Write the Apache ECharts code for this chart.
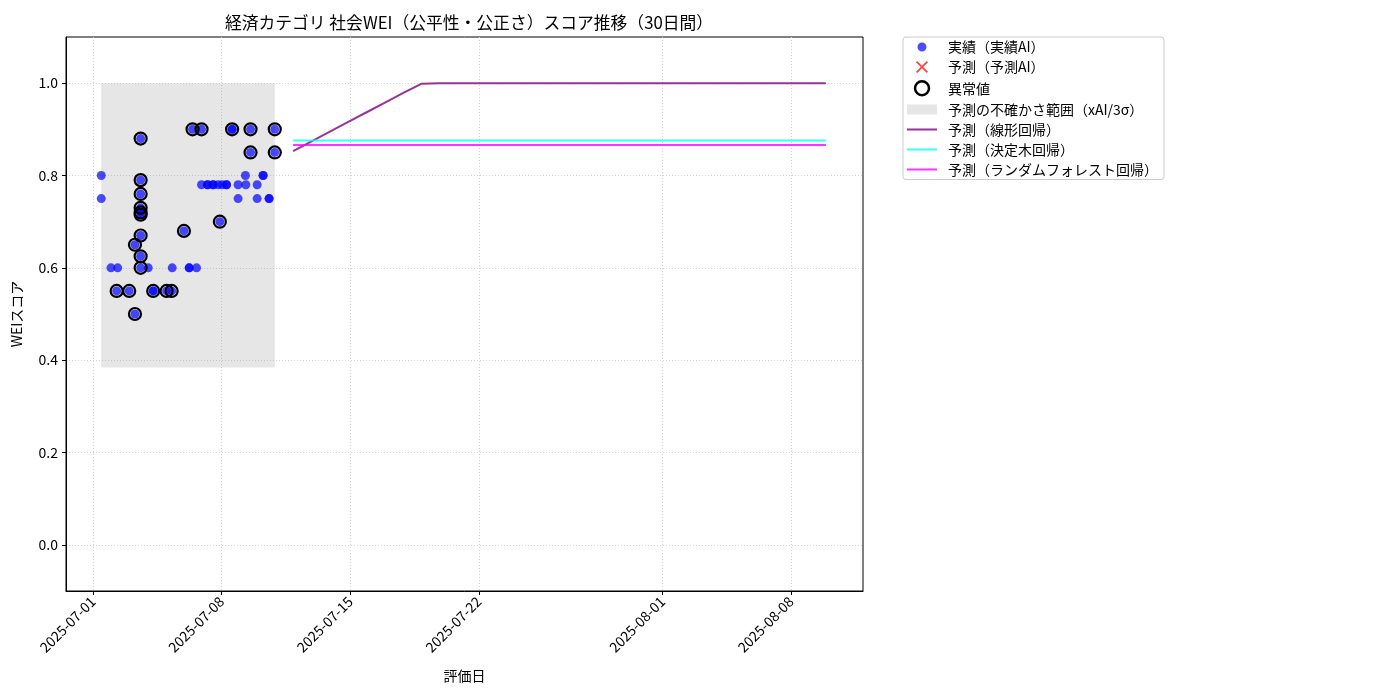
<!DOCTYPE html>
<html>
<head>
<meta charset="utf-8">
<script src="https://cdn.jsdelivr.net/npm/echarts@6/dist/echarts.min.js"></script>
<style>
  html, body { margin: 0; padding: 0; background: #fff; }
  #main { width: 1400px; height: 700px; }
</style>
</head>
<body>
<div id="main"></div>
<script>
// 実績データ（評価日時とスコア）
var actualTimes = [
  '2025-07-01 10:50', '2025-07-01 10:50', '2025-07-01 23:30', '2025-07-02 06:55',
  '2025-07-02 08:15', '2025-07-02 23:20', '2025-07-03 06:50', '2025-07-03 06:50',
  '2025-07-03 14:15', '2025-07-03 14:15', '2025-07-03 14:15', '2025-07-03 14:15',
  '2025-07-03 14:15', '2025-07-03 14:15', '2025-07-03 14:15', '2025-07-03 14:15',
  '2025-07-03 14:15', '2025-07-04 00:10', '2025-07-04 06:40', '2025-07-04 06:40',
  '2025-07-05 00:10', '2025-07-05 06:45', '2025-07-05 07:30', '2025-07-05 22:50',
  '2025-07-06 05:45', '2025-07-06 05:45', '2025-07-06 10:05', '2025-07-06 15:20',
  '2025-07-06 21:50', '2025-07-06 21:50', '2025-07-07 05:45', '2025-07-07 05:45',
  '2025-07-07 13:00', '2025-07-07 13:00', '2025-07-07 19:30', '2025-07-07 21:45',
  '2025-07-08 00:45', '2025-07-08 06:30', '2025-07-08 06:30', '2025-07-08 13:45',
  '2025-07-08 13:45', '2025-07-08 21:35', '2025-07-08 21:35', '2025-07-09 07:10',
  '2025-07-09 07:40', '2025-07-09 13:50', '2025-07-09 13:50', '2025-07-09 22:30',
  '2025-07-09 22:30', '2025-07-10 06:15', '2025-07-10 06:15', '2025-07-10 14:05',
  '2025-07-10 14:05', '2025-07-10 21:30', '2025-07-10 21:30'
]
var actualValues = [
  0.80, 0.75, 0.60, 0.55,
  0.60, 0.55, 0.65, 0.50,
  0.88, 0.79, 0.76, 0.73,
  0.72, 0.715, 0.67, 0.625,
  0.60, 0.60, 0.55, 0.55,
  0.55, 0.55, 0.60, 0.68,
  0.60, 0.60, 0.90, 0.60,
  0.90, 0.78, 0.78, 0.78,
  0.78, 0.78, 0.78, 0.70,
  0.78, 0.78, 0.78, 0.90,
  0.90, 0.78, 0.75, 0.80,
  0.78, 0.90, 0.85, 0.78,
  0.75, 0.80, 0.80, 0.75,
  0.75, 0.90, 0.85
]

// 異常値
var outlierTimes = [
  '2025-07-02 06:55', '2025-07-02 23:20', '2025-07-03 06:50', '2025-07-03 06:50',
  '2025-07-03 14:15', '2025-07-03 14:15', '2025-07-03 14:15', '2025-07-03 14:15',
  '2025-07-03 14:15', '2025-07-03 14:15', '2025-07-03 14:15', '2025-07-03 14:15',
  '2025-07-03 14:15', '2025-07-04 06:40', '2025-07-05 00:10', '2025-07-05 06:45',
  '2025-07-05 22:50', '2025-07-06 10:05', '2025-07-06 21:50', '2025-07-07 21:45',
  '2025-07-08 13:45', '2025-07-09 13:50', '2025-07-09 13:50', '2025-07-10 21:30',
  '2025-07-10 21:30'
]
var outlierValues = [
  0.55, 0.55, 0.65, 0.50,
  0.88, 0.79, 0.76, 0.73,
  0.72, 0.715, 0.67, 0.625,
  0.60, 0.55, 0.55, 0.55,
  0.68, 0.90, 0.90, 0.70,
  0.90, 0.90, 0.85, 0.90,
  0.85
]

// 不確かさ範囲（xAI/3σ）
var bandLower = 0.384
var bandUpper = 1.0

// 予測（翌日から30日分）
var predStart = '2025-07-11 21:30'
var linearPred = [
  0.853, 0.874, 0.895, 0.916, 0.937, 0.958, 0.979, 0.999, 1.0, 1.0,
  1.0, 1.0, 1.0, 1.0, 1.0, 1.0, 1.0, 1.0, 1.0, 1.0,
  1.0, 1.0, 1.0, 1.0, 1.0, 1.0, 1.0, 1.0, 1.0, 1.0
]
var treePred = [
  0.876, 0.876, 0.876, 0.876, 0.876, 0.876, 0.876, 0.876, 0.876, 0.876,
  0.876, 0.876, 0.876, 0.876, 0.876, 0.876, 0.876, 0.876, 0.876, 0.876,
  0.876, 0.876, 0.876, 0.876, 0.876, 0.876, 0.876, 0.876, 0.876, 0.876
]
var forestPred = [
  0.866, 0.866, 0.866, 0.866, 0.866, 0.866, 0.866, 0.866, 0.866, 0.866,
  0.866, 0.866, 0.866, 0.866, 0.866, 0.866, 0.866, 0.866, 0.866, 0.866,
  0.866, 0.866, 0.866, 0.866, 0.866, 0.866, 0.866, 0.866, 0.866, 0.866
]

// 目盛り
var xTickDates = ['2025-07-01', '2025-07-08', '2025-07-15', '2025-07-22', '2025-08-01', '2025-08-08']
var yTicks = [0.0, 0.2, 0.4, 0.6, 0.8, 1.0]

function toTime (s) {
  var p = s.split(/[- :]/).map(Number)
  return new Date(p[0], p[1] - 1, p[2], p[3] || 0, p[4] || 0).getTime()
}
function pad (n) { return n < 10 ? '0' + n : '' + n }
function fmtDate (v) {
  var d = new Date(v)
  return d.getFullYear() + '-' + pad(d.getMonth() + 1) + '-' + pad(d.getDate())
}

var predTimes = []
for (var i = 0; i < linearPred.length; i++) {
  predTimes.push(toTime(predStart) + i * 86400000)
}
function pairs (xs, ys) {
  return xs.map(function (x, i) { return [typeof x === 'string' ? toTime(x) : x, ys[i]] })
}

var FONT = '"Noto Sans CJK JP", "Noto Sans", sans-serif'
var xCustom = xTickDates.map(toTime)
var XMARK = 'path://M1,0 L5,4 L9,0 L10,1 L6,5 L10,9 L9,10 L5,6 L1,10 L0,9 L4,5 L0,1 Z'
// 凡例アイコン（30x14 の枠、四隅の極小点で大きさを固定）
var PADBOX = 'M0,0 L0.01,0 L0,0.01 Z M30,14 L29.99,14 L30,13.99 Z '
var DOTICON = 'path://' + PADBOX + 'M19.5,7 A4.5,4.5 0 1,1 10.5,7 A4.5,4.5 0 1,1 19.5,7 Z'
var XICON = 'path://' + PADBOX + 'M10.2,1 L15,5.8 L19.8,1 L21,2.2 L16.2,7 L21,11.8 L19.8,13 L15,8.2 L10.2,13 L9,11.8 L13.8,7 L9,2.2 Z'
var BANDICON = 'path://' + PADBOX + 'M0,2 L30,2 L30,12 L0,12 Z'
var LINEICON = 'path://' + PADBOX + 'M0,6 L30,6 L30,8 L0,8 Z'

var main = document.getElementById('main')
var myChart = echarts.init(main)

myChart.setOption({
  animation: false,
  backgroundColor: '#fff',
  textStyle: { fontFamily: FONT },
  title: {
    text: '経済カテゴリ 社会WEI（公平性・公正さ）スコア推移（30日間）',
    left: 464,
    textAlign: 'center',
    top: 9,
    textStyle: { fontSize: 16.8, fontWeight: 'normal', color: '#000', fontFamily: FONT }
  },
  legend: {
    orient: 'vertical',
    left: 903,
    top: 37,
    padding: [3, 6, 3, 4],
    itemWidth: 30,
    itemHeight: 14,
    itemGap: 6,
    borderColor: '#ccc',
    borderWidth: 1,
    borderRadius: 3,
    textStyle: { fontSize: 14, color: '#000', fontFamily: FONT, lineHeight: 14, padding: [0, 0, 0, 6] },
    data: [
      { name: '実績（実績AI）', icon: DOTICON },
      { name: '予測（予測AI）', icon: XICON },
      { name: '異常値', icon: 'circle', itemStyle: { borderWidth: 2.5 } },
      { name: '予測の不確かさ範囲（xAI/3σ）', icon: BANDICON },
      { name: '予測（線形回帰）', icon: LINEICON },
      { name: '予測（決定木回帰）', icon: LINEICON },
      { name: '予測（ランダムフォレスト回帰）', icon: LINEICON }
    ]
  },
  grid: {
    left: 66,
    right: 537,
    top: 37,
    bottom: 109,
    show: true,
    borderColor: '#000',
    borderWidth: 1,
    backgroundColor: 'transparent'
  },
  xAxis: {
    type: 'value',
    min: toTime('2025-06-29 12:45'),
    max: toTime('2025-08-11 22:00'),
    name: '評価日',
    nameLocation: 'middle',
    nameGap: 78,
    nameTextStyle: { fontSize: 14, color: '#000', fontFamily: FONT },
    axisLine: { onZero: false, lineStyle: { color: '#000', width: 1 } },
    axisTick: { show: true, length: 4, customValues: xCustom, lineStyle: { color: '#000' } },
    axisLabel: {
      customValues: xCustom,
      rotate: 45,
      fontSize: 14,
      color: '#000',
      margin: 8,
      formatter: fmtDate
    },
    splitLine: { show: true, lineStyle: { color: '#d2d2d2', type: [1, 2], width: 1 } }
  },
  yAxis: {
    type: 'value',
    min: -0.1,
    max: 1.1,
    name: 'WEIスコア',
    nameLocation: 'middle',
    nameRotate: 90,
    nameGap: 42,
    nameTextStyle: { fontSize: 14, color: '#000', fontFamily: FONT },
    axisLine: { show: true, onZero: false, lineStyle: { color: '#000', width: 1 } },
    axisTick: { show: true, length: 4, customValues: yTicks, lineStyle: { color: '#000' } },
    axisLabel: {
      customValues: yTicks,
      fontSize: 14,
      color: '#000',
      formatter: function (v) { return v.toFixed(1) }
    },
    splitLine: { show: true, lineStyle: { color: '#d2d2d2', type: [1, 2], width: 1 } }
  },
  series: [
    {
      name: '予測の不確かさ範囲（xAI/3σ）',
      type: 'line',
      data: [],
      symbol: 'none',
      itemStyle: { color: 'rgba(128,128,128,0.2)' },
      lineStyle: { width: 0 },
      z: 1,
      markArea: {
        silent: true,
        itemStyle: { color: 'rgba(128,128,128,0.2)' },
        data: [[
          { coord: [toTime(actualTimes[0]), bandLower] },
          { coord: [toTime(actualTimes[actualTimes.length - 1]), bandUpper] }
        ]]
      }
    },
    {
      name: '実績（実績AI）',
      type: 'scatter',
      symbol: 'circle',
      symbolSize: 9,
      itemStyle: { color: 'rgba(0,0,255,0.7)', opacity: 1 },
      data: pairs(actualTimes, actualValues),
      z: 3
    },
    {
      name: '予測（予測AI）',
      type: 'scatter',
      symbol: XMARK,
      itemStyle: { color: 'rgba(255,0,0,0.75)', opacity: 1 },
      data: [],
      z: 3
    },
    {
      name: '異常値',
      type: 'scatter',
      symbol: 'circle',
      symbolSize: 12,
      itemStyle: { color: 'rgba(0,0,0,0)', borderColor: '#000', borderWidth: 2.2, opacity: 1 },
      data: pairs(outlierTimes, outlierValues),
      z: 4
    },
    {
      name: '予測（線形回帰）',
      type: 'line',
      symbol: 'none',
      lineStyle: { color: 'rgba(128,0,128,0.8)', width: 2 },
      itemStyle: { color: 'rgba(128,0,128,0.8)' },
      data: pairs(predTimes, linearPred),
      z: 5
    },
    {
      name: '予測（決定木回帰）',
      type: 'line',
      symbol: 'none',
      lineStyle: { color: 'rgba(0,255,255,0.8)', width: 2 },
      itemStyle: { color: 'rgba(0,255,255,0.8)' },
      data: pairs(predTimes, treePred),
      z: 5
    },
    {
      name: '予測（ランダムフォレスト回帰）',
      type: 'line',
      symbol: 'none',
      lineStyle: { color: 'rgba(255,0,255,0.8)', width: 2 },
      itemStyle: { color: 'rgba(255,0,255,0.8)' },
      data: pairs(predTimes, forestPred),
      z: 5
    }
  ]
})
</script>
</body>
</html>
